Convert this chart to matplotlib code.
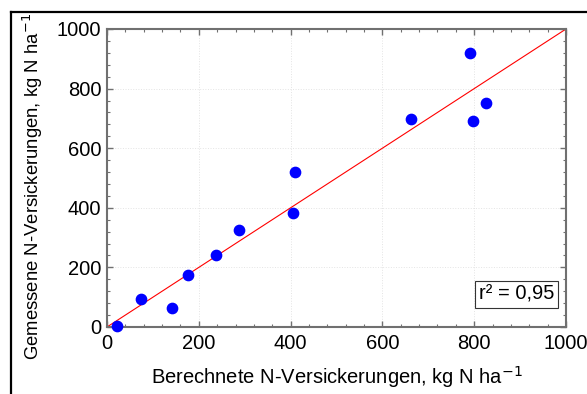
import matplotlib.pyplot as plt
import numpy as np
from matplotlib.lines import Line2D
from matplotlib.ticker import MultipleLocator

plt.rcParams['font.family'] = ['Liberation Sans', 'DejaVu Sans']

# Berechnete (x) und gemessene (y) N-Versickerungen
berechnet = [22, 74, 142, 176, 237, 288, 405, 410, 662, 791, 797, 826]
gemessen = [5, 93, 63, 174, 241, 325, 382, 521, 698, 918, 692, 751]
r2_text = 'r² = 0,95'

fs = 14.5

fig = plt.figure(figsize=(5.87, 3.94), dpi=100)
ax = fig.add_axes([107/587, 1 - 327/394, 459/587, 298/394])

ax.plot([0, 1000], [0, 1000], color='#ff0000', lw=0.8, zorder=2)
ax.scatter(berechnet, gemessen, s=55, color='#0000ff', zorder=3, clip_on=False)

ax.set_xlim(0, 1000)
ax.set_ylim(0, 1000)
ax.xaxis.set_major_locator(MultipleLocator(200))
ax.yaxis.set_major_locator(MultipleLocator(200))
ax.xaxis.set_minor_locator(MultipleLocator(40))
ax.yaxis.set_minor_locator(MultipleLocator(40))
ax.tick_params(which='both', direction='in', top=True, right=True,
               color='#707070', labelsize=fs)
ax.tick_params(which='major', length=4, width=1)
ax.tick_params(which='minor', length=2.5, width=0.8)
ax.tick_params(axis='x', pad=5)
ax.tick_params(axis='y', pad=4)
for s in ax.spines.values():
    s.set_color('#707070')
    s.set_linewidth(1.5)
ax.grid(True, which='major', color='#e4e4e4', linestyle=':', lw=0.7)
ax.set_axisbelow(True)

ax.set_xlabel('Berechnete N-Versickerungen, kg N ha$^{-1}$', fontsize=fs, labelpad=8)
ax.set_ylabel('Gemessene N-Versickerungen, kg N ha$^{-1}$', fontsize=13.3)
ax.yaxis.set_label_coords(-0.135, 0.47)

ax.text(0.974, 0.078, r2_text, transform=ax.transAxes, ha='right', va='bottom',
        fontsize=fs,
        bbox=dict(boxstyle='square,pad=0.2', fc='white', ec='#333333', lw=0.8))

# schwarzer Rahmen (links und oben)
fx = 11 / 587
fy = 1 - 12 / 394
fig.add_artist(Line2D([fx, fx], [0, fy], transform=fig.transFigure, color='black', lw=1.6))
fig.add_artist(Line2D([fx, 1], [fy, fy], transform=fig.transFigure, color='black', lw=1.6))

fig.savefig('out.png', dpi=100)
